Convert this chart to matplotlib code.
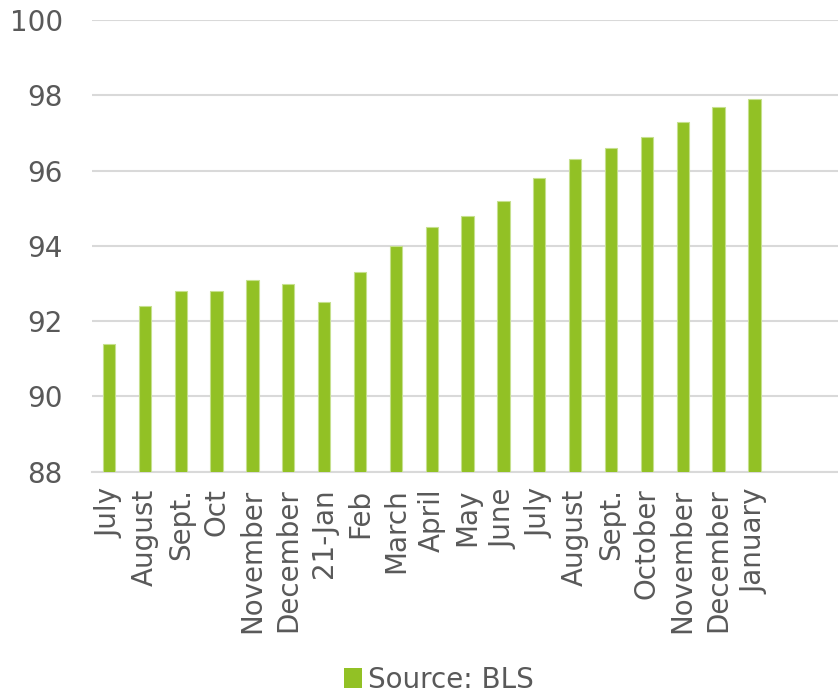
import matplotlib.pyplot as plt
from matplotlib.patches import Patch

# Monthly index values, July through the following January
months = ['July', 'August', 'Sept.', 'Oct', 'November', 'December', '21-Jan',
          'Feb', 'March', 'April', 'May', 'June', 'July', 'August', 'Sept.',
          'October', 'November', 'December', 'January']
values = [91.4, 92.4, 92.8, 92.8, 93.1, 93.0, 92.5, 93.3, 94.0, 94.5,
          94.8, 95.2, 95.8, 96.3, 96.6, 96.9, 97.3, 97.7, 97.9]
yticks = [88, 90, 92, 94, 96, 98, 100]

BAR = '#92c125'
TEXT = '#595959'
GRID = '#d9d9d9'

fig = plt.figure(figsize=(8.38, 6.97), dpi=100)
ax = fig.add_axes([0.1098, 0.3232, 0.8902, 0.6481])

x = list(range(len(values)))
ax.bar(x, values, width=0.34, color=BAR, edgecolor='#c6e08e', linewidth=0.8,
       zorder=3)

ax.set_ylim(88, 100)
ax.set_xlim(-0.474, 20.33)
ax.set_yticks(yticks)
ax.set_yticklabels([str(t) for t in yticks])
ax.set_xticks(x)
ax.set_xticklabels(months, rotation=90, va='top', ha='center')

ax.grid(axis='y', color=GRID, linewidth=1.5, zorder=0)
for side in ['left', 'right', 'top']:
    ax.spines[side].set_visible(False)
ax.spines['bottom'].set_color(GRID)
ax.spines['bottom'].set_linewidth(1.5)

ax.tick_params(axis='y', length=0, pad=21, labelsize=20, labelcolor=TEXT)
ax.tick_params(axis='x', length=0, pad=12, labelsize=20, labelcolor=TEXT)

handle = Patch(facecolor=BAR, edgecolor='none')
fig.legend([handle], ['Source: BLS'], loc='center',
           bbox_to_anchor=(0.524, 0.0244), frameon=False, fontsize=20,
           labelcolor=TEXT, handlelength=0.65, handleheight=0.75,
           handletextpad=0.2)

fig.savefig('out.png', dpi=100)
